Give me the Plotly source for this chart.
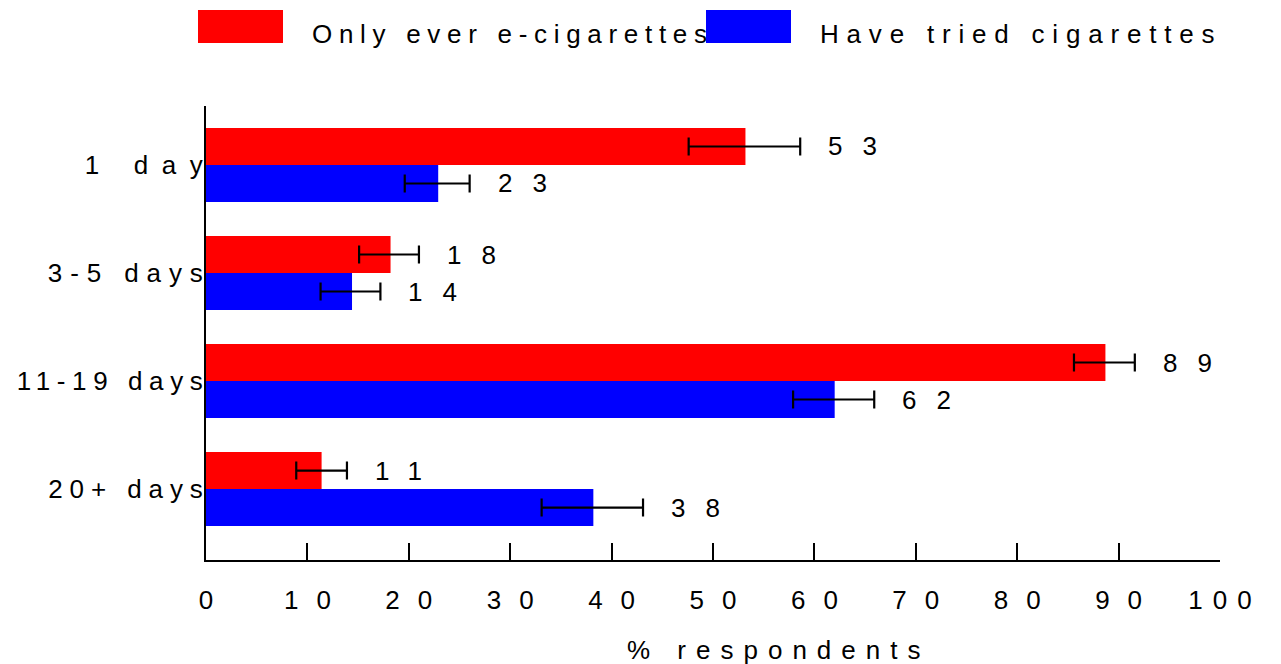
import plotly.graph_objects as go

categories = ["1 day", "3-5 days", "11-19 days", "20+ days"]
series_names = ["Only ever e-cigarettes", "Have tried cigarettes"]
only_ecig = [53.2, 18.2, 88.7, 11.4]
only_ecig_lo = [47.6, 15.1, 85.6, 8.9]
only_ecig_hi = [58.6, 21.0, 91.6, 13.9]
tried_cig = [22.9, 14.4, 62.0, 38.2]
tried_cig_lo = [19.6, 11.3, 57.9, 33.1]
tried_cig_hi = [26.0, 17.2, 65.9, 43.1]
x_ticks = [0, 10, 20, 30, 40, 50, 60, 70, 80, 90, 100]
x_title = "% respondents"
colors = ["#FF0000", "#0000FF"]

FONT = "Liberation Sans, Arial, sans-serif"
W, H = 1281, 664
L, R, T, B = 206, 61, 106, 104
PW, PH = W - L - R, H - T - B

def px(x):
    return (x - L) / PW

def py(y):
    return (H - B - y) / PH

fig = go.Figure()
series = [
    (series_names[0], only_ecig, only_ecig_lo, only_ecig_hi, colors[0]),
    (series_names[1], tried_cig, tried_cig_lo, tried_cig_hi, colors[1]),
]
for name, vals, lo, hi, col in series:
    fig.add_trace(go.Bar(
        name=name, y=categories, x=vals, orientation="h",
        marker=dict(color=col, line=dict(width=0)),
        error_x=dict(type="data", symmetric=False,
                     array=[h - v for h, v in zip(hi, vals)],
                     arrayminus=[v - l for l, v in zip(lo, vals)],
                     color="black", thickness=2.2, width=9),
        showlegend=False, hoverinfo="skip",
    ))

annotations = []
for k, (name, vals, lo, hi, col) in enumerate(series):
    for c, v, h in zip(categories, vals, hi):
        annotations.append(dict(
            x=h, y=c, xref="x", yref="y", text=str(round(v)),
            showarrow=False, xanchor="left", yanchor="middle",
            xshift=26, yshift=18.5 if k == 0 else -18.5,
            font=dict(family=FONT, size=26, color="black"),
        ))

# custom legend
shapes = []
leg_x = [198, 706]
for i, (name, col) in enumerate(zip(series_names, colors)):
    shapes.append(dict(type="rect", xref="paper", yref="paper",
                       x0=px(leg_x[i]), x1=px(leg_x[i] + 85),
                       y0=py(43), y1=py(10), fillcolor=col, line=dict(width=0)))
    annotations.append(dict(x=px(leg_x[i] + 112), y=py(34), xref="paper", yref="paper",
                            text=name, showarrow=False, xanchor="left", yanchor="middle",
                            font=dict(family=FONT, size=26, color="black")))

annotations.append(dict(x=px(625), y=py(650), xref="paper", yref="paper",
                        text=x_title, showarrow=False, xanchor="left", yanchor="middle",
                        font=dict(family=FONT, size=26, color="black")))

fig.update_layout(
    width=W, height=H,
    margin=dict(l=L, r=R, t=T, b=B, pad=0),
    plot_bgcolor="white", paper_bgcolor="white",
    barmode="group", bargap=0.315, bargroupgap=0,
    font=dict(family=FONT, size=26, color="black"),
    shapes=shapes, annotations=annotations,
)
fig.update_xaxes(
    range=[0, 100], tickvals=x_ticks, ticktext=[str(t) for t in x_ticks],
    showgrid=False, zeroline=False, showline=True, linecolor="black", linewidth=2,
    ticks="inside", ticklen=17, tickwidth=2, tickcolor="black",
    ticklabelstandoff=16, tickfont=dict(family=FONT, size=26, color="black"),
)
fig.update_yaxes(
    type="category", categoryorder="array", categoryarray=categories,
    range=[3.657, -0.546],
    showgrid=False, zeroline=False, showline=True, linecolor="black", linewidth=2,
    ticks="", tickfont=dict(family=FONT, size=26, color="black"),
)

post = r"""
document.body.style.margin = '0';
document.body.style.padding = '0';
var gd = document.getElementById('{plot_id}');
function sp(el, ls, anchor, extra) {
  var b0 = el.getBBox();
  el.style.letterSpacing = ls + 'px';
  var b1 = el.getBBox();
  var dx = 0;
  if (anchor === 'left') dx = b0.x - b1.x;
  else if (anchor === 'right') dx = (b0.x + b0.width) - (b1.x + b1.width) + ls;
  else dx = (b0.x + b0.width / 2) - (b1.x + b1.width / 2) + ls / 2;
  el.setAttribute('dx', dx + (extra || 0));
}
var ymap = {'1 day': 13.6, '3-5 days': 7.9, '11-19 days': 6.6, '20+ days': 6.9};
gd.querySelectorAll('g.xtick text').forEach(function(el){
  sp(el, el.textContent === '100' ? 10 : 18, 'center', 0); });
gd.querySelectorAll('g.ytick text').forEach(function(el){
  var t = el.textContent; sp(el, ymap[t] !== undefined ? ymap[t] : 7, 'right', 4); });
var amap = {'Only ever e-cigarettes': 6.7, 'Have tried cigarettes': 7.8, '% respondents': 10};
gd.querySelectorAll('g.annotation text').forEach(function(el){
  var t = el.textContent; sp(el, amap[t] !== undefined ? amap[t] : 20, 'left', 0); });
"""

fig.write_html("out.html", post_script=post, config={"displayModeBar": False})
